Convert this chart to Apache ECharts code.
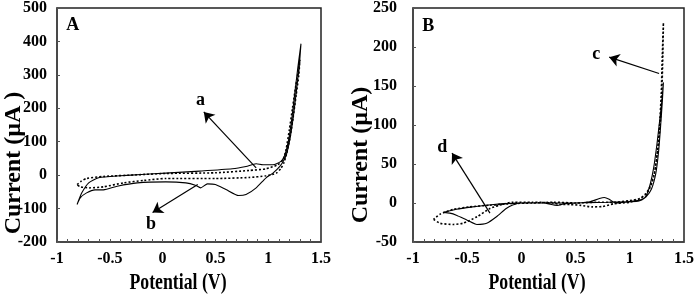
<!DOCTYPE html>
<html><head><meta charset="utf-8">
<script src="https://cdn.jsdelivr.net/npm/echarts@6/dist/echarts.min.js"></script>
<style>html,body{margin:0;padding:0;background:#fff}#c{width:697px;height:298px}</style>
</head><body><div id="c"></div>
<script>
// ---- data (potential V, current µA) ----
const solidA = [[-0.81,-88],[-0.765,-53],[-0.70,-23],[-0.606,-8],[-0.4,-2],[-0.2,2],[0.03,6],[0.35,12],[0.66,19],[0.79,26],[0.886,34],[0.95,31],[1.045,31],[1.12,41],[1.155,58],[1.19,100],[1.22,160],[1.25,240],[1.28,320],[1.31,392],
  [1.295,330],[1.27,260],[1.24,180],[1.21,115],[1.18,70],[1.155,48],[1.11,26],[1.045,6],[0.98,-8],[0.886,-38],[0.79,-58],[0.72,-61],[0.6,-43],[0.5,-28],[0.425,-26],[0.36,-38],[0.31,-30],[0.22,-23],[0.03,-20],[-0.24,-23],[-0.43,-33],[-0.56,-44],[-0.64,-44],[-0.72,-53],[-0.78,-68],[-0.81,-88]];
const dottedA = [[-0.81,-28],[-0.77,-18],[-0.72,-10],[-0.56,-4],[-0.24,1],[0.03,5],[0.5,7],[0.82,14],[0.98,19],[1.09,31],[1.14,46],[1.17,78],[1.2,135],[1.23,200],[1.26,265],[1.29,320],[1.30,345],
  [1.29,300],[1.265,240],[1.235,170],[1.205,110],[1.175,65],[1.15,38],[1.12,20],[1.076,6],[0.98,-2],[0.82,-7],[0.5,-10],[0.03,-10],[-0.18,-16],[-0.37,-23],[-0.56,-35],[-0.69,-38],[-0.78,-35],[-0.81,-28]];
const solidB = [[-0.72,-12],[-0.66,-13],[-0.6,-15.6],[-0.5,-22],[-0.41,-27.5],[-0.32,-26],[-0.23,-17.7],[-0.14,-7],[-0.08,-2.5],[0,0],[0.2,0],[0.33,-3],[0.4,-1],[0.535,0],[0.63,1.4],[0.72,5.7],[0.765,7],[0.81,4.8],[0.87,0],[0.99,1.4],[1.085,2.7],[1.13,5.7],[1.16,12],[1.19,25],[1.22,45],[1.25,75],[1.275,105],[1.295,130],[1.31,154.6],
  [1.30,130],[1.285,100],[1.265,65],[1.24,38],[1.2,18],[1.15,8],[1.1,4],[1.0,2],[0.8,1],[0.6,0.5],[0.4,0],[0.1,0],[-0.1,-0.5],[-0.3,-2.5],[-0.45,-5],[-0.6,-8],[-0.72,-12]];
const dottedB = [[-0.81,-21],[-0.75,-26],[-0.63,-27.5],[-0.54,-26],[-0.41,-17.7],[-0.29,-7],[-0.17,-1.5],[-0.08,1],[0.1,1],[0.3,0],[0.35,-2],[0.45,-2],[0.55,-3],[0.65,-5],[0.75,-4.5],[0.85,-1],[1.0,1],[1.086,5],[1.148,12],[1.19,22],[1.23,40],[1.26,70],[1.28,100],[1.295,140],[1.305,190],[1.31,231],
  [1.3,190],[1.29,140],[1.275,100],[1.255,66],[1.22,33],[1.17,15],[1.1,6],[1.0,3],[0.85,1],[0.7,1],[0.5,0],[0.3,1],[0.1,0],[-0.08,-0.7],[-0.29,-2.8],[-0.48,-5],[-0.63,-8.3],[-0.75,-14.3],[-0.81,-21]];
const potentialTicks = [-1, -0.5, 0, 0.5, 1, 1.5];
const currentTicksA = [-200, -100, 0, 100, 200, 300, 400, 500];
const currentTicksB = [-50, 0, 50, 100, 150, 200, 250];
const arrowsA = [[[0.886,22],[0.39,189]], [[0.333,-28],[-0.095,-112]]];
const lettersA = [['A',[-0.85,448]],['a',[0.36,225]],['b',[-0.11,-147]]];
const arrowsB = [[[1.27,166],[0.81,187]], [[-0.29,-13],[-0.64,64]]];
const lettersB = [['B',[-0.86,227]],['c',[0.69,191]],['d',[-0.73,71]]];

const serif = '"Liberation Serif","DejaVu Serif",serif';
function xAx(g){return {gridIndex:g,type:'value',min:potentialTicks[0],max:potentialTicks[potentialTicks.length-1],interval:0.5,
  axisLine:{show:true,onZero:false,lineStyle:{color:'#444',width:1.5}},
  axisTick:{show:true,inside:true,length:3,lineStyle:{color:'#555'}},
  minorTick:{show:true,splitNumber:5,length:3,lineStyle:{color:'#555'}},
  splitLine:{show:false},
  axisLabel:{fontFamily:serif,fontWeight:'bold',fontSize:16,color:'#000',margin:9}};}
function yAx(g,t,margin){return {gridIndex:g,type:'value',min:t[0],max:t[t.length-1],interval:t[1]-t[0],
  axisLine:{show:true,onZero:false,lineStyle:{color:'#444',width:1.5}},
  axisTick:{show:true,inside:true,length:3,lineStyle:{color:'#555'}},
  splitLine:{show:false},
  axisLabel:{fontFamily:serif,fontWeight:'bold',fontSize:16,color:'#000',margin:margin}};}
function letters(arr, size){return {symbol:'circle',symbolSize:0,itemStyle:{color:'rgba(0,0,0,0)'},
  label:{show:true,position:'inside',formatter:'{b}',fontFamily:serif,fontWeight:'bold',fontSize:size,color:'#000'},
  data:arr.map(d=>({name:d[0],coord:d[1]}))};}
function arrows(arr){return {silent:true,symbol:['none','arrow'],symbolSize:10,
  itemStyle:{color:'#000'},
  lineStyle:{color:'#000',width:1.2,type:'solid'},label:{show:false},emphasis:{disabled:true},
  data:arr.map(a=>[{coord:a[0]},{coord:a[1]}])};}
function solid(g,data,extra){return Object.assign({type:'line',xAxisIndex:g,yAxisIndex:g,data:data,symbol:'none',smooth:0.2,
  lineStyle:{color:'#000',width:1.1}},extra||{});}
function dotted(g,data){return {type:'line',xAxisIndex:g,yAxisIndex:g,data:data,symbol:'none',smooth:0.2,
  lineStyle:{color:'#000',width:1.6,type:[2,2]}};}

const chart = echarts.init(document.getElementById('c'));
chart.setOption({
  animation:false,
  grid:[{left:57,right:376,top:7,bottom:56,show:true,borderColor:'#222',borderWidth:1.5},
        {left:413,right:12,top:7,bottom:56,show:true,borderColor:'#222',borderWidth:1.5}],
  xAxis:[xAx(0),xAx(1)],
  yAxis:[yAx(0,currentTicksA,10),yAx(1,currentTicksB,16)],
  series:[
    dotted(0,dottedA),
    solid(0,solidA,{markLine:arrows(arrowsA),markPoint:letters(lettersA,18)}),
    dotted(1,dottedB),
    solid(1,solidB,{markLine:arrows(arrowsB),markPoint:letters(lettersB,18)})
  ],
  graphic:[
    {type:'text',x:14,y:163,rotation:Math.PI/2,style:{text:'Current (µA )',font:'bold 24px '+serif,fill:'#000',textAlign:'center',textVerticalAlign:'middle'}},
    {type:'text',x:361,y:155,rotation:Math.PI/2,style:{text:'Current (µA)',font:'bold 24px '+serif,fill:'#000',textAlign:'center',textVerticalAlign:'middle'}},
    {type:'text',x:178,y:283,scaleX:0.74,style:{text:'Potential (V)',font:'bold 24px '+serif,fill:'#000',textAlign:'center',textVerticalAlign:'middle'}},
    {type:'text',x:537,y:283,scaleX:0.74,style:{text:'Potential (V)',font:'bold 24px '+serif,fill:'#000',textAlign:'center',textVerticalAlign:'middle'}}
  ]
});
</script></body></html>
